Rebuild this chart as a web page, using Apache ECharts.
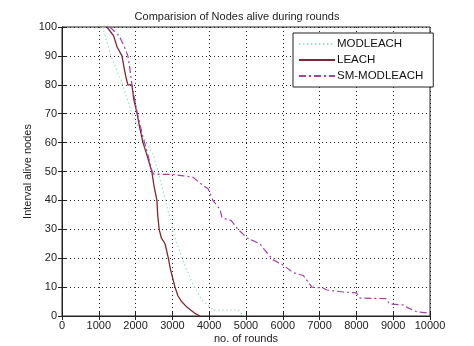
<!DOCTYPE html>
<html><head><meta charset="utf-8">
<script src="https://cdn.jsdelivr.net/npm/echarts@6/dist/echarts.min.js"></script>
<style>html,body{margin:0;padding:0;background:#fff}#c{width:474px;height:346px}</style>
</head><body><div id="c"></div>
<script>
const title = "Comparision of Nodes alive during rounds";
const xName = "no. of rounds";
const yName = "Interval alive nodes";
const seriesNames = ["MODLEACH", "LEACH", "SM-MODLEACH"];

const modleachRounds = [1100,1330,1650,1900,2200,2470,2610,2770,2930,3020,3290,3560,3800,4020,4100,4800,4850,5000];
const modleachAlive  = [100,90,80,70,62,56,50,42,34,29,19,11,5.5,3,2,2,1,0];

const leachRounds = [1220,1400,1500,1630,1700,1750,1790,1900,1950,2040,2100,2200,2300,2440,2500,2580,2600,2640,2700,2800,2890,2950,3070,3150,3250,3400,3600,3750];
const leachAlive  = [100,97,93,90,85,82,80,80,75,70,66,60,56,50,45,40,35,30,27,25,20,16,10,7,5,3,1,0];

const smRounds = [1300,1550,1700,1790,1850,1900,2050,2200,2350,2450,2500,3000,3300,3560,3750,3970,4100,4290,4350,4600,4780,5030,5380,5500,5730,6010,6280,6560,6790,7090,7200,7640,8000,8100,8800,8900,9300,9400,9650,10000];
const smAlive  = [100,97,93,90,85,80,70,62,55,50,49,49,48.5,48,46,44,40,37,34,33,30,27,25,23,19.5,17.6,15,14,10,9.7,9,8.3,8,6.2,6,4.2,3.8,2.8,1.4,1];

const xTicks = {min:0, max:10000, interval:1000};
const yTicks = {min:0, max:100, interval:10};

function pairs(xs, ys){ return xs.map((x,i)=>[x, ys[i]]); }

const font = "Liberation Sans, Arial, sans-serif";
const chart = echarts.init(document.getElementById('c'));
const gridLine = {show:true, lineStyle:{color:'#222', type:[1,3], width:1}};
chart.setOption({
  animation:false,
  backgroundColor:'#fff',
  title:{text:title, left:'center', top:6, textStyle:{fontSize:11, fontWeight:'normal', color:'#222', fontFamily:font}},
  grid:{left:62, right:44, top:27, bottom:30, show:true, borderColor:'#222', borderWidth:1, outerBoundsMode:'none', containLabel:false},
  legend:{
    orient:'vertical', left:293, top:33,
    padding:[5,10,5,5], itemGap:4, itemWidth:36, itemHeight:10,
    backgroundColor:'#fff', borderColor:'#222', borderWidth:1, borderRadius:0,
    itemStyle:{opacity:0},
    textStyle:{fontSize:11.5, color:'#111', fontFamily:font, padding:[0,0,0,-3]},
    data:seriesNames
  },
  xAxis:[{
    type:'value', min:xTicks.min, max:xTicks.max, interval:xTicks.interval,
    name:xName, nameLocation:'middle', nameGap:17, nameMoveOverlap:false,
    nameTextStyle:{fontSize:11, color:'#222', fontFamily:font},
    axisLine:{lineStyle:{color:'#222'}}, axisTick:{inside:true, length:4, lineStyle:{color:'#222'}},
    axisLabel:{fontSize:11, color:'#222', fontFamily:font, margin:4, formatter:v=>String(v)},
    splitLine:gridLine
  },{
    type:'value', position:'top', min:xTicks.min, max:xTicks.max, interval:xTicks.interval,
    axisLine:{show:true, lineStyle:{color:'#222'}}, axisTick:{show:true, inside:true, length:4, lineStyle:{color:'#222'}},
    axisLabel:{show:false}, splitLine:{show:false}
  }],
  yAxis:[{
    type:'value', min:yTicks.min, max:yTicks.max, interval:yTicks.interval,
    name:yName, nameLocation:'middle', nameGap:29, nameMoveOverlap:false,
    nameTextStyle:{fontSize:11, color:'#222', fontFamily:font},
    axisLine:{show:true, lineStyle:{color:'#222'}}, axisTick:{show:true, inside:true, length:4, lineStyle:{color:'#222'}},
    axisLabel:{fontSize:11, color:'#222', fontFamily:font, margin:5},
    splitLine:gridLine
  },{
    type:'value', position:'right', min:yTicks.min, max:yTicks.max, interval:yTicks.interval,
    axisLine:{show:true, lineStyle:{color:'#222'}}, axisTick:{show:true, inside:true, length:4, lineStyle:{color:'#222'}},
    axisLabel:{show:false}, splitLine:{show:false}
  }],
  series:[
    {name:seriesNames[0], type:'line', symbol:'none', data:pairs(modleachRounds, modleachAlive),
     lineStyle:{color:'#9fe0c2', width:1.2, type:[1.5,2.5]}, itemStyle:{color:'#9fe0c2'}},
    {name:seriesNames[1], type:'line', symbol:'none', data:pairs(leachRounds, leachAlive),
     lineStyle:{color:'#7d2836', width:1.3, type:'solid'}, itemStyle:{color:'#7d2836'}},
    {name:seriesNames[2], type:'line', symbol:'none', data:pairs(smRounds, smAlive),
     lineStyle:{color:'#a0449c', width:1.2, type:[7,3,2,3]}, itemStyle:{color:'#a0449c'}}
  ]
});
</script></body></html>
